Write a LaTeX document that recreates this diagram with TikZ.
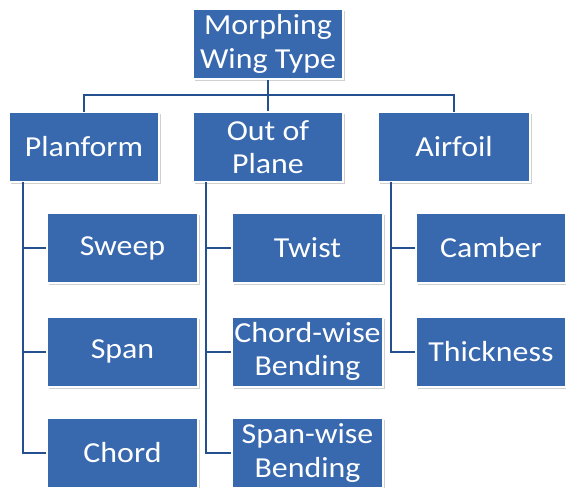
\documentclass[tikz,border=0pt]{standalone}
\usepackage{fontspec}
\setmainfont[FakeStretch=1.1]{Carlito}
\usetikzlibrary{shadows}
\definecolor{boxblue}{HTML}{3868AE}
\definecolor{lineblue}{HTML}{24508F}
\tikzset{
  box/.style={rectangle, fill=boxblue, draw=white, line width=2pt,
    text=white, align=center, inner sep=1pt,
    font=\fontsize{29}{33.5}\selectfont,
    drop shadow={shadow xshift=1.5pt, shadow yshift=-2pt, opacity=0.3, fill=black!60}},
  pbox/.style={box, minimum width=150pt, minimum height=70pt},
  conn/.style={draw=lineblue, line width=2pt}
}
\begin{document}
\begin{tikzpicture}[x=1pt,y=-1pt]
\useasboundingbox[fill=white] (0,0) rectangle (566,488);
% level 0
\node[pbox] (root) at (268,44) {Morphing\\Wing Type};
% level 1
\node[pbox] (plan) at (84,147) {Planform};
\node[pbox] (oop) at (268,147) {Out of\\Plane};
\node[pbox, minimum width=152pt] (air) at (454,147) {Airfoil};
% level 2
\node[pbox, minimum width=151pt] (sweep) at (122.5,248) {Sweep};
\node[pbox, minimum width=151pt] (span) at (122.5,351.5) {Span};
\node[pbox, minimum width=151pt] (chord) at (122.5,453) {Chord};
\node[pbox, minimum width=151pt] (twist) at (307.5,248) {Twist};
\node[pbox, minimum width=151pt] (cwb) at (307.5,351.5) {Chord-wise\\Bending};
\node[pbox, minimum width=151pt] (swb) at (307.5,453) {Span-wise\\Bending};
\node[pbox] (camber) at (491,248) {Camber};
\node[pbox] (thick) at (491,351.5) {Thickness};
% connectors level 0-1
\draw[conn] (root.south) -- (oop.north);
\draw[conn] ([yshift=-1pt]plan.north) -- ++(0,-17) -| ([yshift=-1pt]air.north);
% connectors level 1-2
\draw[conn] ([xshift=-61pt,yshift=1pt]plan.south) |- (sweep.west);
\draw[conn] ([xshift=-61pt,yshift=1pt]plan.south) |- (span.west);
\draw[conn] ([xshift=-61pt,yshift=1pt]plan.south) |- (chord.west);
\draw[conn] ([xshift=-62pt,yshift=1pt]oop.south) |- (twist.west);
\draw[conn] ([xshift=-62pt,yshift=1pt]oop.south) |- (cwb.west);
\draw[conn] ([xshift=-62pt,yshift=1pt]oop.south) |- (swb.west);
\draw[conn] ([xshift=-63pt,yshift=1pt]air.south) |- (camber.west);
\draw[conn] ([xshift=-63pt,yshift=1pt]air.south) |- (thick.west);
\end{tikzpicture}
\end{document}
